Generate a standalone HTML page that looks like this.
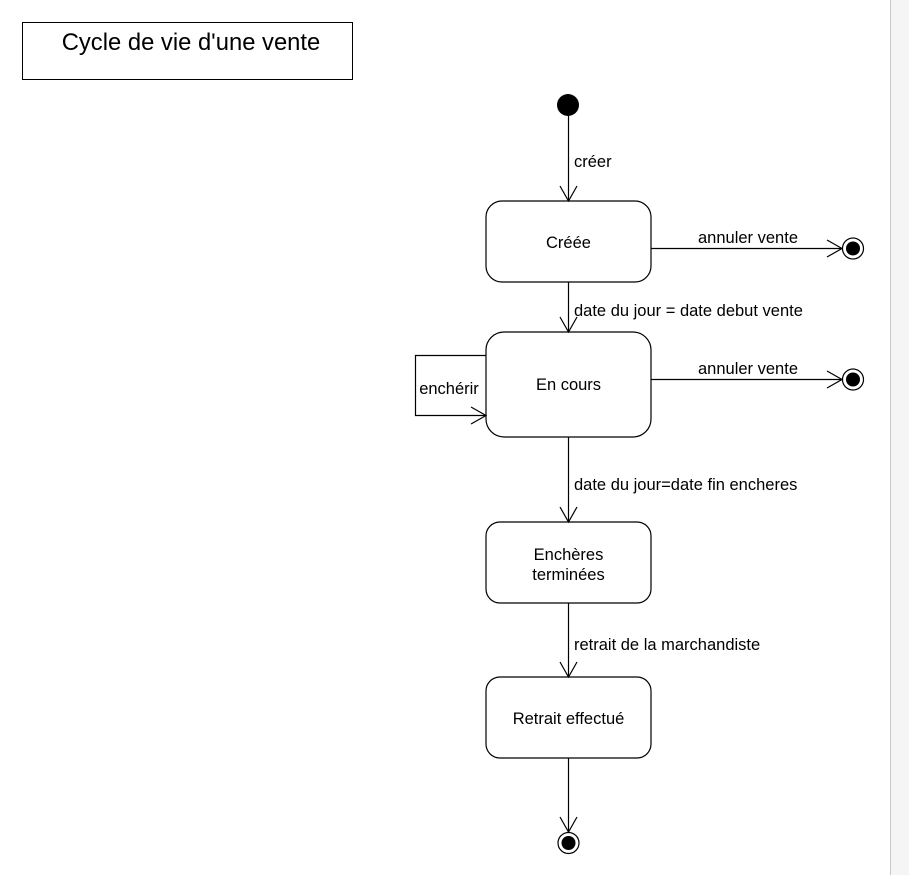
<!DOCTYPE html>
<html><head><meta charset="utf-8"><style>
html,body{margin:0;padding:0;background:#fff;}
body{width:909px;height:875px;overflow:hidden;position:relative;font-family:"Liberation Sans",Arial,sans-serif;}
</style></head><body>
<svg width="909" height="875" xmlns="http://www.w3.org/2000/svg" style="position:absolute;left:0;top:0">
<rect x="890" y="0" width="19" height="875" fill="#f5f5f5"/>
<line x1="890.5" y1="0" x2="890.5" y2="875" stroke="#c8c8c8" stroke-width="1"/>
<g font-family="Liberation Sans, Arial, sans-serif" fill="#000">
<rect x="22.5" y="22.5" width="330" height="57" fill="none" stroke="#000"/>
<text x="191" y="50" font-size="23.8" text-anchor="middle">Cycle de vie d'une vente</text>

<circle cx="568" cy="105" r="11" fill="#000"/>
<g stroke="#000" stroke-width="1.2" fill="none">
<line x1="568.5" y1="116" x2="568.5" y2="201"/>
<polyline points="560,186 568.5,201 577,186"/>
<rect x="486" y="201" width="165" height="81" rx="16"/>
<line x1="651" y1="248.5" x2="842" y2="248.5"/>
<polyline points="827,240 842,248.5 827,257"/>
<line x1="568.5" y1="282" x2="568.5" y2="332"/>
<polyline points="560,317 568.5,332 577,317"/>
<rect x="486" y="332" width="165" height="105" rx="18"/>
<line x1="651" y1="379.5" x2="842" y2="379.5"/>
<polyline points="827,371 842,379.5 827,388"/>
<polyline points="486,355.5 415.5,355.5 415.5,415.5 486,415.5"/>
<polyline points="471,407 486,415.5 471,424"/>
<line x1="568.5" y1="437" x2="568.5" y2="522"/>
<polyline points="560,507 568.5,522 577,507"/>
<rect x="486" y="522" width="165" height="81" rx="14"/>
<line x1="568.5" y1="603" x2="568.5" y2="677"/>
<polyline points="560,662 568.5,677 577,662"/>
<rect x="486" y="677" width="165" height="81" rx="14"/>
<line x1="568.5" y1="758" x2="568.5" y2="832"/>
<polyline points="560,817 568.5,832 577,817"/>
<circle cx="853" cy="248.5" r="10.5"/>
<circle cx="853" cy="379.5" r="10.5"/>
<circle cx="568.5" cy="843" r="10.5"/>
</g>
<circle cx="853" cy="248.5" r="7"/>
<circle cx="853" cy="379.5" r="7"/>
<circle cx="568.5" cy="843" r="7"/>
<g font-size="16.5">
<text x="574" y="167">créer</text>
<text x="568.5" y="248" text-anchor="middle">Créée</text>
<text x="748" y="243" text-anchor="middle">annuler vente</text>
<text x="574" y="316">date du jour = date debut vente</text>
<text x="568.5" y="390" text-anchor="middle">En cours</text>
<text x="748" y="374" text-anchor="middle">annuler vente</text>
<text x="449" y="394" text-anchor="middle">enchérir</text>
<text x="574" y="490">date du jour=date fin encheres</text>
<text x="568.5" y="560" text-anchor="middle">Enchères</text>
<text x="568.5" y="580" text-anchor="middle">terminées</text>
<text x="574" y="650">retrait de la marchandiste</text>
<text x="568.5" y="724" text-anchor="middle">Retrait effectué</text>
</g>
</g>
</svg>
</body></html>
